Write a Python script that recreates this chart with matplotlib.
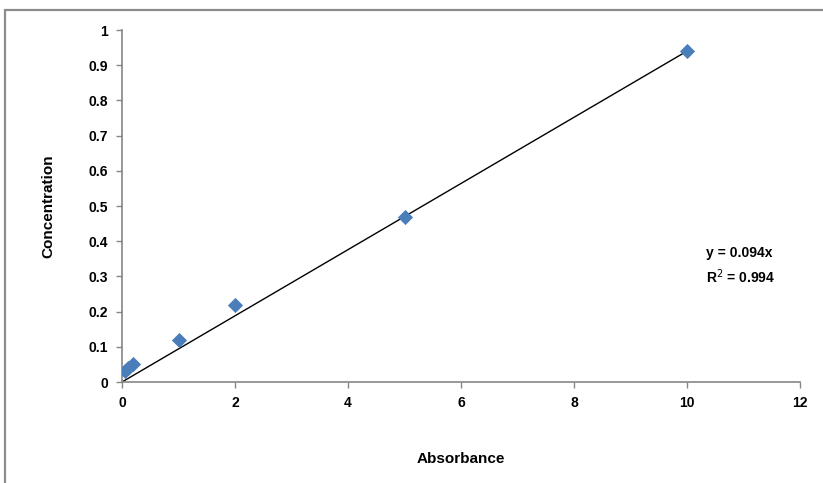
import matplotlib.pyplot as plt
from matplotlib.patches import Rectangle
import numpy as np

# data
absorbance = [0.05, 0.1, 0.2, 1, 2, 5, 10]
concentration = [0.03, 0.04, 0.05, 0.12, 0.22, 0.47, 0.94]
slope = 0.094
r2 = 0.994
x_ticks = [0, 2, 4, 6, 8, 10, 12]
y_ticks = [0, 0.1, 0.2, 0.3, 0.4, 0.5, 0.6, 0.7, 0.8, 0.9, 1]
y_tick_labels = ["0", "0.1", "0.2", "0.3", "0.4", "0.5", "0.6", "0.7", "0.8", "0.9", "1"]

plt.rcParams['font.family'] = ['Liberation Sans Narrow', 'Liberation Sans', 'DejaVu Sans']

fig = plt.figure(figsize=(8.23, 4.83), dpi=100)
W, H = 823, 483

# outer chart border (only left/top visible in the crop)
fig.patches.append(Rectangle((5 / W, -0.1), 1.2, (H - 10) / H + 0.1,
                             transform=fig.transFigure, fill=False,
                             edgecolor='#8c8c8c', linewidth=1.6))

ax = fig.add_axes([122 / W, (H - 382) / H, (800 - 122) / W, (382 - 30) / H])

ax.scatter(absorbance, concentration, marker='D', s=60, color='#4a7ebb',
           zorder=3, linewidths=0)
xs = np.array([0, max(absorbance)])
ax.plot(xs, slope * xs, color='black', linewidth=1.0, zorder=2)

ax.set_xlim(0, 12)
ax.set_ylim(0, 1)
ax.set_xticks(x_ticks)
ax.set_xticklabels([str(t) for t in x_ticks], fontsize=10, fontweight='bold')
ax.set_yticks(y_ticks)
ax.set_yticklabels(y_tick_labels, fontsize=10, fontweight='bold')

for s in ['top', 'right']:
    ax.spines[s].set_visible(False)
for s in ['left', 'bottom']:
    ax.spines[s].set_color('#868686')
    ax.spines[s].set_linewidth(1.2)
ax.tick_params(axis='both', direction='out', length=4, color='#868686', width=1.0, pad=6)

ax.set_xlabel("Absorbance", fontsize=11, fontweight='bold', labelpad=30)
ax.set_ylabel("Concentration", fontsize=11, fontweight='bold', labelpad=24)

ax.text(584 / 678, 0.33, f"y = {slope}x\nR$^2$ = {r2}", transform=ax.transAxes,
        fontsize=10, fontweight='bold', ha='left', va='center', linespacing=1.5)

fig.savefig("out.png", dpi=100)
